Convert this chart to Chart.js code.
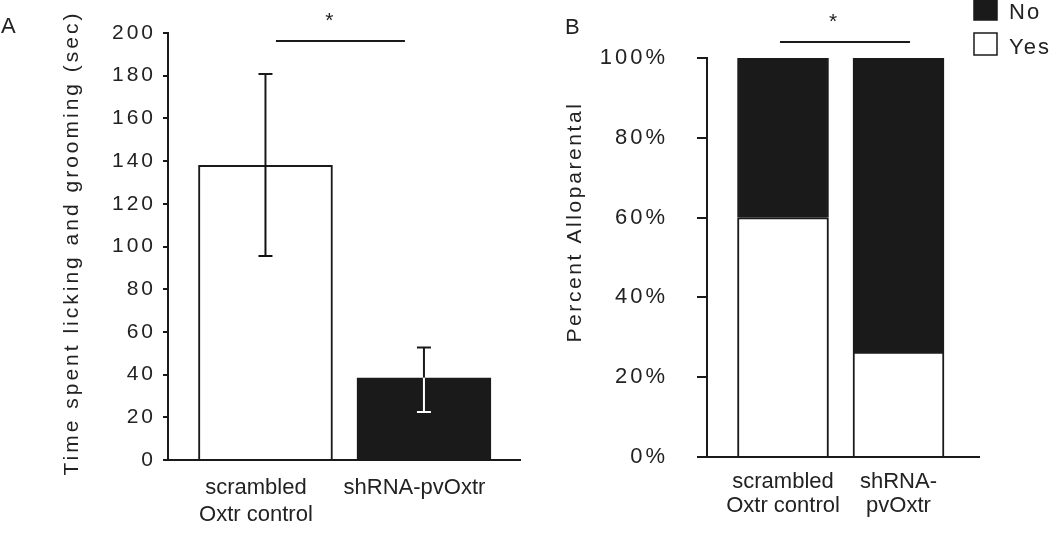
<!DOCTYPE html>
<html>
<head>
<meta charset="utf-8">
<script src="https://cdn.jsdelivr.net/npm/chart.js@4.4.1/dist/chart.umd.min.js"></script>
<style>
html, body { margin: 0; padding: 0; background: #fff; }
#wrapA { position: absolute; left: 0; top: 0; width: 530px; height: 544px; }
#wrapB { position: absolute; left: 530px; top: 0; width: 520px; height: 544px; }
</style>
</head>
<body>
<div id="wrapA"><canvas id="chartA"></canvas></div>
<div id="wrapB"><canvas id="chartB"></canvas></div>
<script>
// panel A: licking and grooming time
const groupsA = [["scrambled", "Oxtr control"], "shRNA-pvOxtr"];
const lickTime = [138, 38.5];
const lickLow = [95.5, 22.5];   // lower end of error bar
const lickHigh = [180.8, 52.7]; // upper end of error bar
const yTicksA = [0, 20, 40, 60, 80, 100, 120, 140, 160, 180, 200];

// panel B: percent alloparental
const groupsB = [["scrambled", "Oxtr control"], ["shRNA-", "pvOxtr"]];
const yesPct = [60, 26.3];
const noPct = [40, 73.7];
const yTicksB = [0, 20, 40, 60, 80, 100];

const FONT = 'Arial, "Liberation Sans", sans-serif';
const INK = '#1a1a1a';
const TEXT = '#222';

Chart.defaults.font.family = FONT;
Chart.defaults.color = TEXT;
Chart.defaults.animation = false;

// spaced-out tick digits like the original figure
const spacedTicks = {
  id: 'spacedTicks',
  beforeDraw(chart) {
    const s = chart.scales.y;
    if (s._spaced) return;
    const orig = s.drawLabels;
    s.drawLabels = function (area) {
      this.ctx.save();
      this.ctx.letterSpacing = '3px';
      orig.call(this, area);
      this.ctx.restore();
    };
    s._spaced = true;
  }
};

// free text: panel letter, rotated axis title
function textPlugin(items) {
  return {
    id: 'freeText',
    afterDraw(chart) {
      const ctx = chart.ctx;
      items.forEach(t => {
        ctx.save();
        ctx.font = t.font;
        ctx.fillStyle = TEXT;
        ctx.letterSpacing = t.spacing || '0px';
        ctx.textAlign = t.align || 'left';
        ctx.textBaseline = 'middle';
        ctx.translate(t.x, t.y);
        if (t.rotate) ctx.rotate(t.rotate);
        ctx.fillText(t.text, 0, 0);
        ctx.restore();
      });
    }
  };
}

// significance bar with a star, placed in data units
function sigPlugin(from, to, yVal, starShift) {
  return {
    id: 'sig',
    afterDraw(chart) {
      const ctx = chart.ctx;
      const x = chart.scales.x, y = chart.scales.y;
      const x1 = x.getPixelForValue(from), x2 = x.getPixelForValue(to);
      const py = y.getPixelForValue(yVal);
      ctx.save();
      ctx.strokeStyle = INK;
      ctx.lineWidth = 2;
      ctx.beginPath();
      ctx.moveTo(x1, py);
      ctx.lineTo(x2, py);
      ctx.stroke();
      ctx.font = '21px ' + FONT;
      ctx.fillStyle = TEXT;
      ctx.textAlign = 'center';
      ctx.textBaseline = 'middle';
      ctx.fillText('*', (x1 + x2) / 2 + starShift, py - 20);
      ctx.restore();
    }
  };
}

// error bars for panel A
const errorBars = {
  id: 'errorBars',
  afterDatasetsDraw(chart) {
    const ctx = chart.ctx;
    const y = chart.scales.y;
    const meta = chart.getDatasetMeta(0);
    const inside = ['#111', '#fff'];
    meta.data.forEach((bar, i) => {
      const top = y.getPixelForValue(lickHigh[i]);
      const bot = y.getPixelForValue(lickLow[i]);
      const cap = 7;
      ctx.save();
      ctx.lineWidth = 2;
      // part above the bar
      ctx.strokeStyle = INK;
      ctx.beginPath();
      ctx.moveTo(bar.x - cap, top);
      ctx.lineTo(bar.x + cap, top);
      ctx.moveTo(bar.x, top);
      ctx.lineTo(bar.x, bar.y);
      ctx.stroke();
      // part inside the bar
      ctx.strokeStyle = inside[i];
      ctx.beginPath();
      ctx.moveTo(bar.x, bar.y);
      ctx.lineTo(bar.x, bot);
      ctx.moveTo(bar.x - cap, bot);
      ctx.lineTo(bar.x + cap, bot);
      ctx.stroke();
      ctx.restore();
    });
  }
};

// stacked legend at top right of panel B
const legendB = {
  id: 'legendB',
  afterDraw(chart) {
    const ctx = chart.ctx;
    const order = [1, 0];
    ctx.save();
    order.forEach((d, k) => {
      const ds = chart.data.datasets[d];
      const y0 = -2 + k * 35;
      ctx.fillStyle = ds.backgroundColor;
      ctx.fillRect(444, y0, 23, 22);
      ctx.strokeStyle = INK;
      ctx.lineWidth = 1.5;
      ctx.strokeRect(444, y0, 23, 22);
      ctx.fillStyle = TEXT;
      ctx.font = '22px ' + FONT;
      ctx.letterSpacing = '2px';
      ctx.textBaseline = 'middle';
      ctx.fillText(ds.label, 479, y0 + 15);
    });
    ctx.restore();
  }
};

function yAxis(ticks, width, tickLen, pad, size, fmt) {
  return {
    min: 0,
    max: ticks[ticks.length - 1],
    afterFit: s => { s.width = width; },
    afterBuildTicks: s => { s.ticks = ticks.map(v => ({ value: v })); },
    grid: { drawOnChartArea: false, color: INK, lineWidth: 2, tickLength: tickLen },
    border: { color: INK, width: 2 },
    ticks: { font: { size: size }, padding: pad, color: TEXT, callback: fmt }
  };
}

function xAxis(min, max, height, labels, shift, pad, lh) {
  return {
    type: 'linear',
    min: min,
    max: max,
    offset: false,
    afterFit: s => { s.height = height; },
    afterBuildTicks: s => {
      s.ticks = [{ value: min }].concat(labels.map((g, i) => ({ value: i + 1 + shift })));
    },
    grid: {
      drawOnChartArea: false,
      lineWidth: 2,
      tickLength: 7,
      tickColor: c => (c.tick && c.tick.value === min ? INK : 'rgba(0,0,0,0)')
    },
    border: { color: INK, width: 2 },
    ticks: {
      autoSkip: false,
      maxRotation: 0,
      padding: pad,
      color: TEXT,
      font: { size: 22, lineHeight: lh },
      callback: (v, i) => (i === 0 ? '' : labels[i - 1])
    }
  };
}

new Chart(document.getElementById('chartA'), {
  type: 'bar',
  data: {
    datasets: [{
      label: 'Time',
      data: lickTime.map((v, i) => ({ x: i + 1, y: v })),
      backgroundColor: ['#ffffff', '#1a1a1a'],
      borderColor: INK,
      borderWidth: 2,
      borderSkipped: 'bottom',
      barThickness: 134
    }]
  },
  options: {
    responsive: true,
    maintainAspectRatio: false,
    layout: { padding: { top: 33, right: 10, left: 0, bottom: 0 } },
    plugins: { legend: { display: false }, tooltip: { enabled: false } },
    scales: {
      x: xAxis(0.385, 2.606, 84, groupsA, -0.06, 8, 1.2),
      y: yAxis(yTicksA, 168, 5, 7, 21, v => String(v))
    }
  },
  plugins: [
    spacedTicks, errorBars,
    sigPlugin(1.066, 1.88, 196.3, -11),
    textPlugin([
      { text: 'A', x: 1, y: 27, font: '22px ' + FONT },
      { text: 'Time spent licking and grooming (sec)', x: 72, y: 243, font: '21px ' + FONT,
        spacing: '3px', align: 'center', rotate: -Math.PI / 2 }
    ])
  ]
});

new Chart(document.getElementById('chartB'), {
  type: 'bar',
  data: {
    datasets: [
      {
        label: 'Yes',
        data: yesPct.map((v, i) => ({ x: i + 1, y: v })),
        backgroundColor: '#ffffff',
        borderColor: INK,
        borderWidth: 2,
        borderSkipped: 'bottom',
        barThickness: 91
      },
      {
        label: 'No',
        data: noPct.map((v, i) => ({ x: i + 1, y: v })),
        backgroundColor: '#1a1a1a',
        borderColor: INK,
        borderWidth: 2,
        borderSkipped: 'bottom',
        barThickness: 91
      }
    ]
  },
  options: {
    responsive: true,
    maintainAspectRatio: false,
    layout: { padding: { top: 58, right: 71, left: 0, bottom: 0 } },
    plugins: { legend: { display: false }, tooltip: { enabled: false } },
    scales: {
      x: Object.assign(xAxis(0.342, 2.697, 87, groupsB, 0, 6, 1.1), { stacked: true }),
      y: Object.assign(yAxis(yTicksB, 177, 10, 29, 22, v => v + '%'), { stacked: true })
    }
  },
  plugins: [
    spacedTicks, legendB,
    sigPlugin(0.974, 2.1, 104, -12),
    textPlugin([
      { text: 'B', x: 35, y: 28, font: '22px ' + FONT },
      { text: 'Percent Alloparental', x: 45, y: 222, font: '21px ' + FONT,
        spacing: '2.6px', align: 'center', rotate: -Math.PI / 2 }
    ])
  ]
});
</script>
</body>
</html>
